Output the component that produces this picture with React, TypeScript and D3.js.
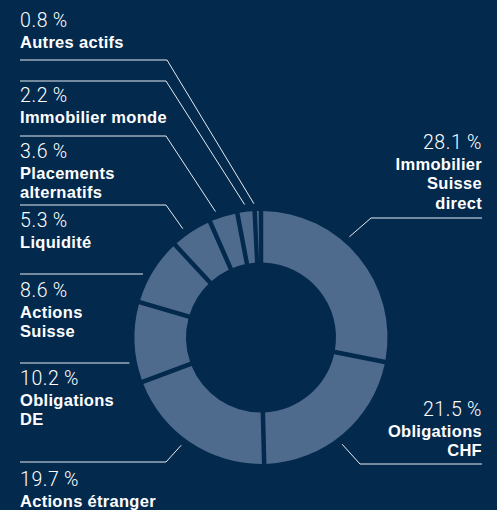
import React from 'react';
import * as d3 from 'd3';

// portfolio allocation, clockwise from 12 o'clock
const categories = [
    'Immobilier Suisse direct',
    'Obligations CHF',
    'Actions étranger',
    'Obligations DE',
    'Actions Suisse',
    'Liquidité',
    'Placements alternatifs',
    'Immobilier monde',
    'Autres actifs'
];
const shares = [28.1, 21.5, 19.7, 10.2, 8.6, 5.3, 3.6, 2.2, 0.8];
const labelLines = [
    ['Immobilier', 'Suisse', 'direct'],
    ['Obligations', 'CHF'],
    ['Actions étranger'],
    ['Obligations', 'DE'],
    ['Actions', 'Suisse'],
    ['Liquidité'],
    ['Placements', 'alternatifs'],
    ['Immobilier monde'],
    ['Autres actifs']
];

// label placement (value baseline, leader line y, elbow x, angle tweak in degrees)
const labelLayout = [
    { side: 'right', y: 149, lineY: 218, elbowX: 371, shift: -9.3 },
    { side: 'right', y: 416, lineY: 464, elbowX: 360, shift: 2.9 },
    { side: 'left', y: 486, lineY: 462, elbowX: 166, shift: 2.5 },
    { side: 'left', y: 385, lineY: 363, elbowX: null, shift: 0 },
    { side: 'left', y: 297, lineY: 274, elbowX: null, shift: 0 },
    { side: 'left', y: 227, lineY: 205, elbowX: 166, shift: -2.4 },
    { side: 'left', y: 158, lineY: 136, elbowX: 166, shift: -2.6 },
    { side: 'left', y: 102, lineY: 81, elbowX: 166, shift: -0.2 },
    { side: 'left', y: 27, lineY: 60, elbowX: 167, shift: -1.6 }
];

const W = 497, H = 510;
const cx = 261, cy = 337.5;
const outerR = 126.5, innerR = 75, leaderR = 134;
const leftX = 20, rightX = 482;
const bg = '#03294d';
const sliceColor = '#4e6b8e';
const lineColor = '#e6ebf0';

export default function App() {
    const pie = d3.pie<number>()
        .value(d => d)
        .sort(null);

    const arc = d3.arc<d3.PieArcDatum<number>>()
        .innerRadius(innerR)
        .outerRadius(outerR)
        .padAngle(0.045)
        .padRadius(100);

    const slices = pie(shares);
    const fmt = (v: number) => v.toFixed(1) + '\u2009%';

    return (
        <svg width={W} height={H} style={{ position: 'fixed', left: 0, top: 0, display: 'block' }}>
            <rect width={W} height={H} fill={bg} />
            <g transform={`translate(${cx},${cy})`}>
                {slices.map((s, i) => (
                    <path key={i} d={arc(s) || ''} fill={sliceColor} />
                ))}
            </g>
            {slices.map((s, i) => {
                const lay = labelLayout[i];
                const right = lay.side === 'right';
                const x0 = right ? rightX : leftX;
                let pts: [number, number][];
                if (lay.elbowX == null) {
                    const dy = lay.lineY - cy;
                    const ex = cx - Math.sqrt(leaderR * leaderR - dy * dy);
                    pts = [[x0, lay.lineY], [ex, lay.lineY]];
                } else {
                    const a = (s.startAngle + s.endAngle) / 2 + lay.shift * Math.PI / 180;
                    pts = [
                        [x0, lay.lineY],
                        [lay.elbowX, lay.lineY],
                        [cx + leaderR * Math.sin(a), cy - leaderR * Math.cos(a)]
                    ];
                }
                return (
                    <g key={i}>
                        <path d={d3.line()(pts) || ''} fill="none" stroke={lineColor} strokeWidth={1} />
                        <text x={x0} y={lay.y} textAnchor={right ? 'end' : 'start'}
                              fill="#ffffff" fontFamily="Roboto, sans-serif" fontWeight={300}
                              fontSize={19.5} letterSpacing={0.6}>
                            {fmt(shares[i])}
                        </text>
                        {labelLines[i].map((t, j) => (
                            <text key={j} x={x0} y={lay.y + 20.5 + j * 19.7}
                                  textAnchor={right ? 'end' : 'start'}
                                  fill="#ffffff" fontFamily="'Liberation Sans', Arial, sans-serif"
                                  fontWeight="bold" fontSize={16.5} letterSpacing={0.3}>
                                {t}
                            </text>
                        ))}
                    </g>
                );
            })}
        </svg>
    );
}
